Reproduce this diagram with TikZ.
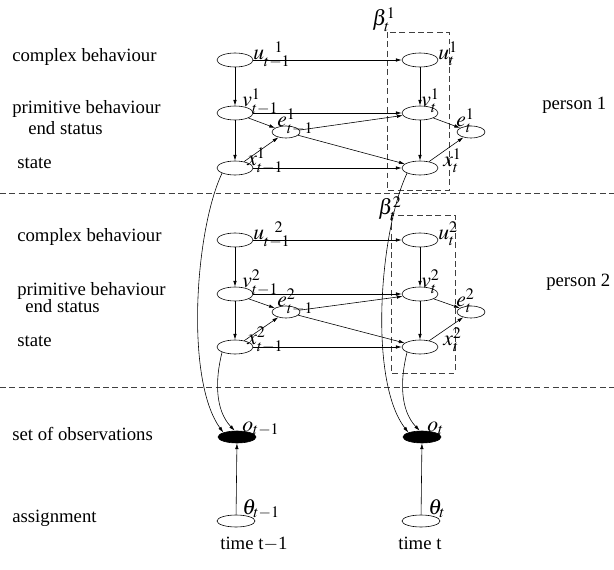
\documentclass[tikz,border=0pt]{standalone}
\usepackage{mathptmx}
\usepackage{fontspec}
\setmainfont{Liberation Serif}
\usetikzlibrary{arrows.meta,shapes.geometric}

\begin{document}
\begin{tikzpicture}[x=0.03cm,y=-0.03cm,line width=0.5pt,
	every node/.style={font=\fontsize{16}{18}\selectfont},
	var/.style={draw,ellipse,inner sep=0,minimum width=1.08cm,minimum height=0.42cm},
	evar/.style={draw,ellipse,inner sep=0,minimum width=0.84cm,minimum height=0.36cm},
	obs/.style={draw,fill=black,ellipse,inner sep=0,minimum width=1.14cm,minimum height=0.36cm},
	lbl/.style={anchor=base west,inner sep=0,font=\fontsize{18.5}{20}\selectfont},
	txt/.style={anchor=base west,inner sep=0},
	sep/.style={black!75,dash pattern=on 5pt off 3pt},
	>={Latex[length=5pt,width=3pt]}]
	\useasboundingbox (0,0) rectangle (614,570);

	% row captions
	\node[txt] (c1) at (12,62) {complex behaviour};
	\node[txt] (p1) at (12,114) {primitive behaviour};
	\node[txt] (s1) at (28,135) {end status};
	\node[txt] (x1) at (17,169) {state};
	\node[txt] (c2) at (17,242) {complex behaviour};
	\node[txt] (p2) at (17,296) {primitive behaviour};
	\node[txt] (s2) at (25,313) {end status};
	\node[txt] (x2) at (17,347) {state};
	\node[txt] (obset) at (12,441) {set of observations};
	\node[txt] (asg) at (12,522) {assignment};
	\node[txt] (pers1) at (542,110) {person 1};
	\node[txt] (pers2) at (546,287) {person 2};
	\node[txt] (tp) at (220,549) {time t$-$1};
	\node[txt] (tt) at (398,549) {time t};

	% separators and slices
	\draw[sep] (0,193) -- (614,193);
	\draw[sep] (0,387) -- (614,387);
	\draw[sep] (387,32) rectangle (449,190);
	\draw[sep] (391,215) rectangle (455,373);
	\node[lbl] (b1) at (372,26) {$\beta^1_t$};
	\node[lbl] (b2) at (378,215) {$\beta^2_t$};

	% person 1
	\node[var] at (235,60) (u1p) {};
	\node[var] at (420,60) (u1t) {};
	\node[var] at (235,113) (v1p) {};
	\node[var] at (420,113) (v1t) {};
	\node[evar] at (286,132) (e1p) {};
	\node[evar] at (471,132) (e1t) {};
	\node[var] at (235,168) (x1p) {};
	\node[var] at (420,168) (x1t) {};
	\node[lbl] (lu1p) at (253,60) {$u^{\kern9pt1}_{t-1}$};
	\node[lbl] (lu1t) at (438,60) {$u^1_t$};
	\node[lbl] (lv1p) at (242,107) {$v^1_{t-1}$};
	\node[lbl] (lv1t) at (421,107) {$v^1_t$};
	\node[lbl] (le1p) at (277,127) {$e^1_{t-1}$};
	\node[lbl] (le1t) at (456,127) {$e^1_t$};
	\node[lbl] (lx1p) at (247,166) {$x^1_{t-1}$};
	\node[lbl] (lx1t) at (443,167) {$x^1_t$};

	% person 2
	\node[var] at (235,240) (u2p) {};
	\node[var] at (420,240) (u2t) {};
	\node[var] at (235,294) (v2p) {};
	\node[var] at (420,294) (v2t) {};
	\node[evar] at (286,312) (e2p) {};
	\node[evar] at (471,312) (e2t) {};
	\node[var] at (235,347) (x2p) {};
	\node[var] at (420,347) (x2t) {};
	\node[lbl] (lu2p) at (253,240) {$u^{\kern9pt2}_{t-1}$};
	\node[lbl] (lu2t) at (438,240) {$u^2_t$};
	\node[lbl] (lv2p) at (242,288) {$v^2_{t-1}$};
	\node[lbl] (lv2t) at (421,288) {$v^2_t$};
	\node[lbl] (le2p) at (277,307) {$e^2_{t-1}$};
	\node[lbl] (le2t) at (456,307) {$e^2_t$};
	\node[lbl] (lx2p) at (247,345) {$x^2_{t-1}$};
	\node[lbl] (lx2t) at (443,346) {$x^2_t$};

	% observations and assignments
	\node[obs] at (237,437) (op) {};
	\node[obs] at (422,437) (ot) {};
	\node[var,minimum width=1.14cm,minimum height=0.36cm] at (236,521) (thp) {};
	\node[var,minimum width=1.14cm,minimum height=0.36cm] at (421,521) (tht) {};
	\node[lbl] (lop) at (242,431) {$o_{t-1}$};
	\node[lbl] (lot) at (427,431) {$o_t$};
	\node[lbl] (lthp) at (242,514) {$\theta_{t-1}$};
	\node[lbl] (ltht) at (428,514) {$\theta_t$};

	% person 1 links
	\draw[->] (u1p) -- (u1t);
	\draw[->] (u1p) -- (v1p);
	\draw[->] (v1p) -- (x1p);
	\draw[->] (v1p) -- (v1t);
	\draw[->] (v1p) -- (e1p);
	\draw[->] (x1p) -- (e1p);
	\draw[->] (x1p) -- (x1t);
	\draw[->] (e1p) -- (v1t);
	\draw[->] (e1p) -- (x1t);
	\draw[->] (u1t) -- (v1t);
	\draw[->] (v1t) -- (x1t);
	\draw[->] (v1t) -- (e1t);
	\draw[->] (x1t) -- (e1t);

	% person 2 links
	\draw[->] (u2p) -- (u2t);
	\draw[->] (u2p) -- (v2p);
	\draw[->] (v2p) -- (x2p);
	\draw[->] (v2p) -- (v2t);
	\draw[->] (v2p) -- (e2p);
	\draw[->] (x2p) -- (e2p);
	\draw[->] (x2p) -- (x2t);
	\draw[->] (e2p) -- (v2t);
	\draw[->] (e2p) -- (x2t);
	\draw[->] (u2t) -- (v2t);
	\draw[->] (v2t) -- (x2t);
	\draw[->] (v2t) -- (e2t);
	\draw[->] (x2t) -- (e2t);

	% states to observations
	\draw[->] (x1p.south west) .. controls (195,230) and (185,380) .. (op.north west);
	\draw[->] (x2p.south west) .. controls (215,380) and (215,410) .. (op.110);
	\draw[->] (x1t.south west) .. controls (380,230) and (368,380) .. (ot.north west);
	\draw[->] (x2t.south west) .. controls (400,380) and (400,410) .. (ot.110);
	\draw[->] (thp) -- (op);
	\draw[->] (tht) -- (ot);
\end{tikzpicture}
\end{document}
